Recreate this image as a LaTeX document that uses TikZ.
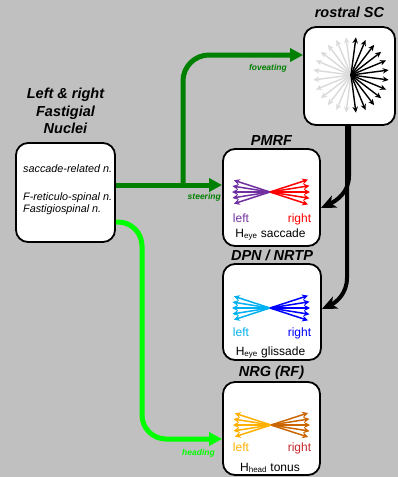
\documentclass[tikz,border=0pt]{standalone}
\usepackage{fontspec}
\setmainfont{Liberation Sans}
\usetikzlibrary{arrows.meta,positioning,calc}

\definecolor{bggray}{HTML}{C0C0C0}
\definecolor{pathgreen}{HTML}{008000}
\definecolor{headgreen}{HTML}{00FF00}
\definecolor{sacleft}{HTML}{7030A0}
\definecolor{sacright}{HTML}{FF0000}
\definecolor{glileft}{HTML}{00B0F0}
\definecolor{gliright}{HTML}{0000FF}
\definecolor{tonleft}{HTML}{FFB000}
\definecolor{tonright}{HTML}{CC6600}
\definecolor{tonlabel}{HTML}{C8282D}
\definecolor{raygray}{HTML}{DADADA}

\tikzset{
  nucbox/.style={draw=black, line width=1.8pt, fill=white, rounded corners=12pt, inner sep=0pt},
  nuctitle/.style={font=\fontsize{14.5}{17.5}\selectfont\bfseries\itshape, inner sep=0pt},
  cellname/.style={font=\fontsize{10.8}{12}\selectfont\itshape, inner sep=0pt, anchor=base west},
  sidelabel/.style={font=\fontsize{12}{14}\selectfont, inner sep=0pt, anchor=base},
  pathlabel/.style={font=\fontsize{8.5}{10}\selectfont\bfseries\itshape, inner sep=0pt, anchor=base east},
  fanarrow/.style={line width=1.5pt, -{Stealth[length=6pt,width=6pt]}},
  rayarrow/.style={line width=1.4pt, -{Stealth[length=6pt,width=5.5pt]}},
  greenpath/.style={line width=5pt, -{Triangle[length=13pt,width=13pt]}},
  blackpath/.style={line width=4pt, -{Stealth[length=15pt,width=13pt,inset=4pt]}}
}

\begin{document}
\begin{tikzpicture}[x=1pt,y=-1pt]
\fill[bggray] (0,0) rectangle (398,477);
\useasboundingbox (0,0) rectangle (398,477);

%Fastigial nuclei
\node[nucbox, minimum width=99pt, minimum height=99pt] (fn) at (65.5,192.5) {};
\node[nuctitle, align=center, anchor=south] (fntitle) at ([yshift=8pt]fn.north) {Left \& right\\Fastigial\\Nuclei};
\node[cellname] (fnsac) at (23,172.5) {saccade-related n.};
\node[cellname] (fnret) at (23,200.5) {F-reticulo-spinal n.};
\node[cellname] (fnspin) at (23,212) {Fastigiospinal n.};

%Rostral SC
\node[nucbox, minimum width=91pt, minimum height=98pt] (sc) at (349.5,76) {};
\node[nuctitle, anchor=base] (sctitle) at ([yshift=8.5pt]sc.north) {rostral SC};
\coordinate (scray) at (351,75);
\foreach \a in {97.5,112.5,...,262.5}
  \draw[rayarrow, raygray] (scray) -- ++(\a:38pt);
\foreach \a in {-82.5,-67.5,...,82.5}
  \draw[rayarrow, black] (scray) -- ++(\a:38pt);

%PMRF
\node[nucbox, minimum width=97pt, minimum height=97pt] (pmrf) at (271.5,197.5) {};
\node[nuctitle, anchor=base] (pmrftitle) at ([yshift=2.7pt]pmrf.north) {PMRF};
\coordinate (pmrffan) at (270,192);
\foreach \a in {-18,-9,0,9,18} {
  \draw[fanarrow, sacleft] (pmrffan) -- ++(180+\a:38pt);
  \draw[fanarrow, sacright] (pmrffan) -- ++(\a:40pt);
}
\node[sidelabel, sacleft] (pmrfleft) at (241,222) {left};
\node[sidelabel, sacright] (pmrfright) at (299.5,222) {right};
\node[sidelabel] (pmrfname) at (270.5,237) {H\textsubscript{eye} saccade};

%DPN / NRTP
\node[nucbox, minimum width=98pt, minimum height=96pt] (dpn) at (272,312) {};
\node[nuctitle, anchor=base] (dpntitle) at ([yshift=3pt]dpn.north) {DPN / NRTP};
\coordinate (dpnfan) at (270,308);
\foreach \a in {-18,-9,0,9,18} {
  \draw[fanarrow, glileft] (dpnfan) -- ++(180+\a:38pt);
  \draw[fanarrow, gliright] (dpnfan) -- ++(\a:40pt);
}
\node[sidelabel, glileft] (dpnleft) at (241,336) {left};
\node[sidelabel, gliright] (dpnright) at (299.5,336) {right};
\node[sidelabel] (dpnname) at (270.5,355) {H\textsubscript{eye} glissade};

%NRG (RF)
\node[nucbox, minimum width=97pt, minimum height=93pt] (nrg) at (271.5,428.5) {};
\node[nuctitle, anchor=base] (nrgtitle) at ([yshift=5pt]nrg.north) {NRG (RF)};
\coordinate (nrgfan) at (271,425);
\foreach \a in {-18,-9,0,9,18} {
  \draw[fanarrow, tonleft] (nrgfan) -- ++(180+\a:38pt);
  \draw[fanarrow, tonright] (nrgfan) -- ++(\a:39pt);
}
\node[sidelabel, tonleft] (nrgleft) at (241,451.5) {left};
\node[sidelabel, tonlabel] (nrgright) at (299.5,451.5) {right};
\node[sidelabel] (nrgname) at (270,471) {H\textsubscript{head} tonus};

%Fastigial outputs
\coordinate (steerfork) at (183,185);
\coordinate (headbend) at (142,330);
\draw[greenpath, pathgreen] ([yshift=7.5pt]fn.east) -- ([yshift=12.5pt]pmrf.west);
\draw[greenpath, pathgreen, rounded corners=26pt] (steerfork) |- ([yshift=21pt]sc.west);
\draw[greenpath, headgreen, rounded corners=24pt] ([yshift=-29.5pt]fn.east) -| (headbend) |- ([yshift=-10.5pt]nrg.west);
\node[pathlabel, pathgreen] (fovlabel) at (287,70) {foveating};
\node[pathlabel, pathgreen] (steerlabel) at (221,199) {steering};
\node[pathlabel, headgreen] (headlabel) at (215,455) {heading};

%SC outputs
\draw[blackpath] ([xshift=-0.5pt]sc.south) -- ++(0,50) to[out=-90,in=25] ([yshift=-10.5pt]pmrf.east);
\draw[blackpath] ([xshift=-2.5pt]sc.south) -- ++(0,152) to[out=-90,in=25] ([yshift=3pt]dpn.east);
\end{tikzpicture}
\end{document}
